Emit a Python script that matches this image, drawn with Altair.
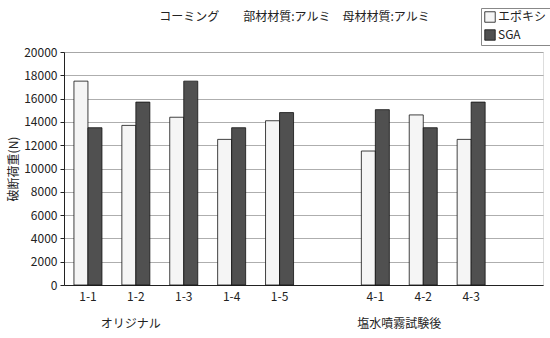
import altair as alt
import pandas as pd

categories = ["1-1", "1-2", "1-3", "1-4", "1-5", "4-1", "4-2", "4-3"]
epoxy = [17500, 13700, 14400, 12500, 14100, 11500, 14600, 12500]
sga = [13500, 15700, 17500, 13500, 14800, 15050, 13500, 15700]
series = ["エポキシ", "SGA"]
x_domain = ["1-1", "1-2", "1-3", "1-4", "1-5", " ", "4-1", "4-2", "4-3", "  "]
y_ticks = list(range(0, 20001, 2000))
title_text = "コーミング　　部材材質:アルミ　母材材質:アルミ"
y_title = "破断荷重(N)"
group_labels = ["オリジナル", "塩水噴霧試験後"]
group_anchor = ["1-2", "4-1"]

rows = []
for c, e, s in zip(categories, epoxy, sga):
    rows.append({"cat": c, "series": series[0], "value": e})
    rows.append({"cat": c, "series": series[1], "value": s})
df = pd.DataFrame(rows)

FONT = "Noto Sans CJK JP"
W, H = 479, 233

x_enc = alt.X(
    "cat:N",
    scale=alt.Scale(domain=x_domain, paddingInner=0, paddingOuter=0),
    axis=alt.Axis(title=None, labelAngle=0, ticks=False, labelPadding=6,
                  domainColor="#222", labelFontSize=12, labelColor="#222", labelFont=FONT),
)

bars = alt.Chart(df).mark_bar(stroke="#111", strokeWidth=0.8).encode(
    x=x_enc,
    xOffset=alt.XOffset("series:N", scale=alt.Scale(domain=series, paddingInner=0, paddingOuter=0.71)),
    y=alt.Y(
        "value:Q",
        scale=alt.Scale(domain=[0, 20000], nice=False),
        axis=alt.Axis(values=y_ticks, format="d", title=y_title, titleFontWeight="normal", titleFontSize=12,
                      titleFont=FONT, titleColor="#222", titlePadding=3,
                      labelFontSize=12, labelFont=FONT, labelColor="#222", tickSize=4,
                      tickColor="#222", domainColor="#222", labelPadding=3,
                      grid=True, gridColor="#999", gridWidth=0.8),
    ),
    fill=alt.Fill(
        "series:N",
        scale=alt.Scale(domain=series, range=["#f5f5f5", "#505050"]),
        legend=alt.Legend(title=None, orient="none", legendX=417, legendY=-44,
                          symbolType="square", symbolSize=110, symbolStrokeColor="#111",
                          symbolStrokeWidth=0.8, labelFontSize=12, labelFont=FONT,
                          labelColor="#222", strokeColor="#888", padding=3, rowPadding=4,
                          labelOffset=2),
    ),
)

lab_df = pd.DataFrame({"cat": group_anchor, "label": group_labels})
lab1 = alt.Chart(lab_df.iloc[[0]]).mark_text(fontSize=12, font=FONT, color="#222", dx=-5, baseline="middle").encode(
    x=alt.X("cat:N", scale=alt.Scale(domain=x_domain)), y=alt.value(H + 39), text="label:N")
lab2 = alt.Chart(lab_df.iloc[[1]]).mark_text(fontSize=12, font=FONT, color="#222", dx=24, baseline="middle").encode(
    x=alt.X("cat:N", scale=alt.Scale(domain=x_domain)), y=alt.value(H + 39), text="label:N")

title_df = pd.DataFrame({"t": [title_text]})
title = alt.Chart(title_df).mark_text(fontSize=12, font=FONT, color="#222", baseline="middle").encode(
    x=alt.value(W / 2 - 9), y=alt.value(-35), text="t:N")

chart = alt.layer(bars, lab1, lab2, title).properties(
    width=W, height=H,
    autosize=alt.AutoSizeParams(type="none"),
    padding={"left": 64, "top": 52, "right": 7, "bottom": 53},
).configure_view(stroke="#999", strokeWidth=1).configure(background="white")

chart.save("out.html", embed_options={"renderer": "svg", "actions": False})
